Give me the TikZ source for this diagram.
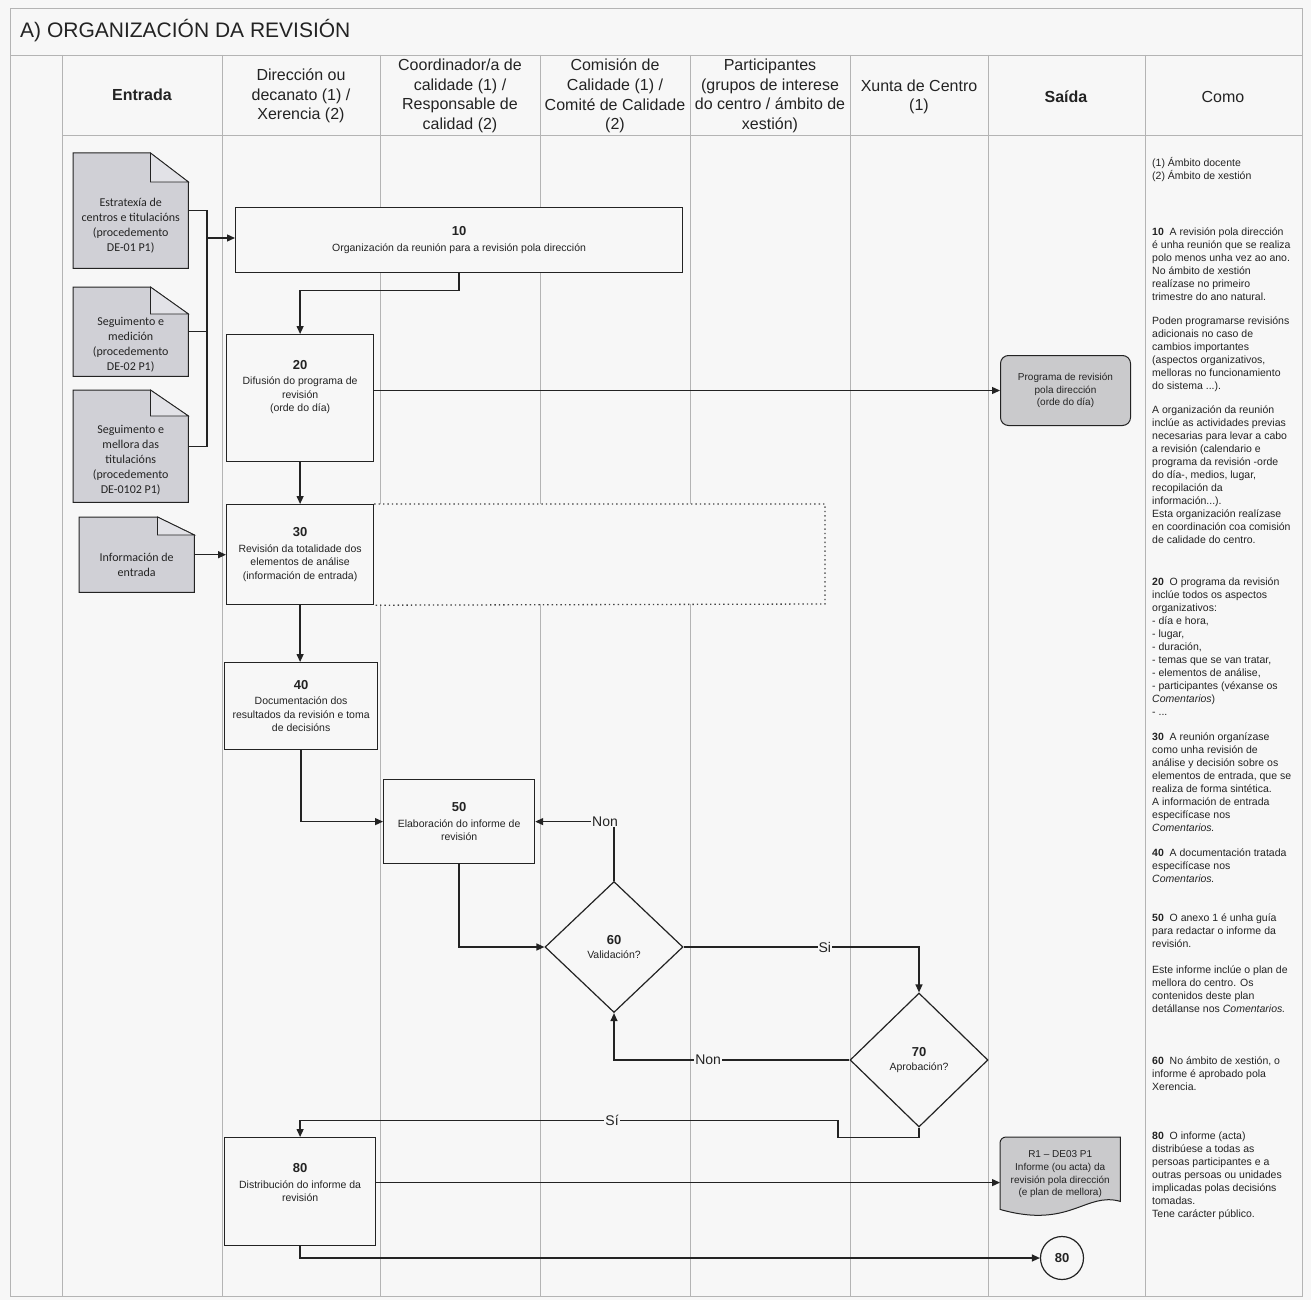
\documentclass[tikz,border=0pt]{standalone}
\usepackage{fontspec}
\setmainfont{Liberation Sans}
\newfontfamily\calib{Carlito}
\usetikzlibrary{arrows.meta,shapes.geometric}
\definecolor{bgc}{RGB}{247,247,247}
\definecolor{gridc}{RGB}{180,180,180}
\definecolor{inkc}{RGB}{35,35,35}
\definecolor{docfill}{RGB}{208,208,214}
\definecolor{foldfill}{RGB}{226,226,231}
\definecolor{outfill}{RGB}{202,202,204}
\pgfdeclarelayer{back}
\pgfdeclarelayer{mid}
\pgfsetlayers{back,mid,main}
\newcommand\stepnum[1]{{\fontsize{13}{15}\selectfont\bfseries #1}}
\newcommand\fdoc[3]{%
  \filldraw[fill=docfill,draw=inkc,line width=1pt] (#1.north west) -- ([xshift=-#2pt]#1.north east) -- ([yshift=-#3pt]#1.north east) -- (#1.south east) -- (#1.south west) -- cycle;
  \filldraw[fill=foldfill,draw=inkc,line width=0.8pt] ([xshift=-#2pt]#1.north east) -- ([xshift=-#2pt,yshift=-#3pt]#1.north east) -- ([yshift=-#3pt]#1.north east) -- cycle;}
\begin{document}
\begin{tikzpicture}[x=1pt,y=-1pt,
  every node/.style={text=inkc},
  proc/.style={draw=inkc,line width=1.2pt,fill=bgc,anchor=north west,inner sep=2pt,align=center,font=\fontsize{10.5}{13.5}\selectfont},
  ptext/.style={inner sep=0pt,align=center,font=\fontsize{10.5}{13.5}\selectfont},
  dec/.style={diamond,draw=inkc,line width=1.2pt,fill=bgc,inner sep=0pt,align=center,font=\fontsize{10.5}{13.5}\selectfont},
  docbox/.style={anchor=north west,inner sep=0pt,minimum width=115},
  doctext/.style={inner sep=0pt,align=center,font=\calib\fontsize{12}{14.8}\selectfont},
  outbox/.style={anchor=north west,inner sep=0pt,align=center,font=\fontsize{10}{12.8}\selectfont},
  outtext/.style={inner sep=0pt,align=center,font=\fontsize{10}{12.8}\selectfont},
  hdr/.style={inner sep=0pt,align=center,font=\fontsize{16}{19.6}\selectfont},
  como/.style={anchor=north west,inner sep=0pt,align=left,font=\fontsize{10.5}{12.95}\selectfont,execute at begin node=\strut},
  ln/.style={draw=inkc,line width=1.3pt},
  arr/.style={draw=inkc,line width=1.3pt,-{Triangle[length=8pt,width=7pt]}},
  lab/.style={fill=bgc,inner sep=1pt,font=\fontsize{14}{16}\selectfont}
]
\useasboundingbox (0,0) rectangle (1311,1300);
\begin{pgfonlayer}{back}
  \fill[bgc] (0,0) rectangle (1311,1300);
  \draw[gridc,line width=0.7pt] (10,8) rectangle (1302,1296);
  \draw[gridc,line width=0.7pt] (10,55) -- (1302,55);
  \draw[gridc,line width=0.7pt] (62,135) -- (1302,135);
  \foreach \x in {62,222,380,540,690,850,988,1145} \draw[gridc,line width=0.7pt] (\x,55) -- (\x,1296);
\end{pgfonlayer}

% title and headers
\node[anchor=base west,inner sep=0pt,font=\fontsize{21}{25}\selectfont] (title) at (20,38) {A) ORGANIZACIÓN DA REVISIÓN};
\node[hdr] (hEnt) at (142,95) {\bfseries Entrada};
\node[hdr] (hDir) at (301,96) {Dirección ou\\decanato (1) /\\Xerencia (2)};
\node[hdr] (hCoo) at (460,96) {Coordinador/a de\\calidade (1) /\\Responsable de\\calidad (2)};
\node[hdr] (hCom) at (615,96) {Comisión de\\Calidade (1) /\\Comité de Calidade\\(2)};
\node[hdr] (hPar) at (770,96) {Participantes\\(grupos de interese\\do centro / ámbito de\\xestión)};
\node[hdr] (hXun) at (919,97) {Xunta de Centro\\(1)};
\node[hdr] (hSai) at (1066,97) {\bfseries Saída};
\node[hdr] (hComo) at (1223,97) {Como};

% input documents
\node[docbox,minimum height=115] (d1) at (73,153) {};
\node[docbox,minimum height=89] (d2) at (73,287) {};
\node[docbox,minimum height=112] (d3) at (73,390) {};
\node[docbox,minimum height=75] (d4) at (79,517) {};
\node[doctext] (t1) at ([yshift=-15]d1.center) {Estratexía de\\centros e titulacións\\(procedemento\\DE-01 P1)};
\node[doctext] (t2) at ([yshift=-13]d2.center) {Seguimento e\\medición\\(procedemento\\DE-02 P1)};
\node[doctext] (t3) at ([yshift=-14]d3.center) {Seguimento e\\mellora das\\titulacións\\(procedemento\\DE-0102 P1)};
\node[doctext] (t4) at ([yshift=-10]d4.center) {Información de\\entrada};
\begin{pgfonlayer}{mid}
  \fdoc{d1}{38}{29}
  \fdoc{d2}{38}{27}
  \fdoc{d3}{38}{26}
  \fdoc{d4}{37}{18}
\end{pgfonlayer}

% process boxes
\node[proc,minimum width=447,minimum height=65] (b10) at (235,207) {\stepnum{10}\\[2pt]Organización da reunión para a revisión pola dirección};
\node[proc,minimum width=147,minimum height=127] (b20) at (226,334) {};
\node[ptext] (t20) at ([yshift=11]b20.center) {\stepnum{20}\\[2pt]Difusión do programa de\\revisión\\(orde do día)};
\node[proc,minimum width=147,minimum height=100] (b30) at (226,504) {\stepnum{30}\\[2pt]Revisión da totalidade dos\\elementos de análise\\(información de entrada)};
\node[proc,minimum width=153,minimum height=87] (b40) at (224,662) {\stepnum{40}\\[2pt]Documentación dos\\resultados da revisión e toma\\de decisións};
\node[proc,minimum width=151,minimum height=84] (b50) at (383,779) {\stepnum{50}\\[2pt]Elaboración do informe de\\revisión};
\node[dec,minimum width=138,minimum height=131] (d60) at (614,947) {\stepnum{60}\\[1pt]Validación?};
\node[dec,minimum width=138,minimum height=134] (d70) at (919,1060) {\stepnum{70}\\[1pt]Aprobación?};
\node[proc,minimum width=151,minimum height=108] (b80) at (224,1137) {};
\node[ptext] (t80) at ([yshift=9]b80.center) {\stepnum{80}\\[2pt]Distribución do informe da\\revisión};

% dotted extension of 30
\begin{pgfonlayer}{mid}
  \fill[bgc] (b30.north east) rectangle (825,604);
  \draw[inkc!85,line width=1.3pt,dash pattern=on 1.4pt off 3pt] (b30.north east) -- (825,504) -- (825,604) -- (b30.south east);
\end{pgfonlayer}

% outputs
\node[outbox,minimum width=130,minimum height=70,draw=inkc,line width=1pt,fill=outfill,rounded corners=8pt] (s1) at (1000,355) {Programa de revisión\\pola dirección\\(orde do día)};
\node[outbox,minimum width=120,minimum height=80] (r1) at (1000,1137) {};
\node[outtext] (tr1) at ([yshift=3]r1.center) {R1 – DE03 P1\\Informe (ou acta) da\\revisión pola dirección\\(e plan de mellora)};
\begin{pgfonlayer}{mid}
  \filldraw[fill=outfill,draw=inkc,line width=1pt] ([yshift=8]r1.south west) -- ([yshift=-6]r1.north west) to[out=90,in=180] ([xshift=6]r1.north west) -- (r1.north east) -- ([yshift=16]r1.south east) .. controls ([xshift=-35,yshift=26]r1.south east) and ([xshift=70,yshift=-12]r1.south west) .. ([yshift=8]r1.south west) -- cycle;
\end{pgfonlayer}
\node[circle,draw=inkc,line width=1.2pt,fill=bgc,minimum size=43,inner sep=0pt,font=\fontsize{13}{15}\selectfont\bfseries] (c80) at (1062,1258) {80};

% connectors
\coordinate (jx) at (207,238);
\draw[ln] (d1.east) -| (jx);
\draw[ln] (d2.east) -| (jx);
\draw[ln] (d3.east) -| (jx);
\draw[arr] (jx) -- (jx -| b10.west);
\draw[arr] (d4.east) -- (d4.east -| b30.west);
\draw[arr] (b10.south) -- ++(0,17) -| (b20.north);
\draw[arr] (s1.west -| b20.east) -- (s1.west);
\draw[arr] (b20.south) -- (b30.north);
\draw[arr] (b30.south) -- (b30.south |- b40.north);
\draw[arr] (b40.south) |- (b50.west);
\draw[arr] (b50.south) |- (d60.west);
\draw[arr] (d60.north) |- node[lab,pos=0.5,xshift=-9pt]{Non} (b50.east);
\draw[arr] (d60.east) -| node[lab,pos=0.3]{Si} (d70.north);
\draw[arr] (d70.west) -| node[lab,pos=0.3]{Non} (d60.south);
\draw[arr] (d70.south) -- ++(0,10) -| ++(-81,-17) -| node[lab,pos=0.21]{Sí} (b80.north);
\coordinate (o80) at ([yshift=9]b80.east);
\draw[arr] (o80) -- (o80 -| r1.west);
\draw[arr] (b80.south) |- (c80.west);

% Como column
\node[como] (p0) at (1152,157) {(1) Ámbito docente\\(2) Ámbito de xestión};
\node[como] (p1) at (1152,228) {\textbf{10}\ \ A revisión pola dirección\\é unha reunión que se realiza\\polo menos unha vez ao ano.\\No ámbito de xestión\\realízase no primeiro\\trimestre do ano natural.};
\node[como] (p2) at (1152,317) {Poden programarse revisións\\adicionais no caso de\\cambios importantes\\(aspectos organizativos,\\melloras no funcionamiento\\do sistema ...).};
\node[como] (p3) at (1152,406) {A organización da reunión\\inclúe as actividades previas\\necesarias para levar a cabo\\a revisión (calendario e\\programa da revisión -orde\\do día-, medios, lugar,\\recopilación da\\información...).\\Esta organización realízase\\en coordinación coa comisión\\de calidade do centro.};
\node[como] (p4) at (1152,578) {\textbf{20}\ \ O programa da revisión\\inclúe todos os aspectos\\organizativos:\\- día e hora,\\- lugar,\\- duración,\\- temas que se van tratar,\\- elementos de análise,\\- participantes (véxanse os\\\textit{Comentarios})\\- ...};
\node[como] (p5) at (1152,733) {\textbf{30}\ \ A reunión organízase\\como unha revisión de\\análise y decisión sobre os\\elementos de entrada, que se\\realiza de forma sintética.\\A información de entrada\\especifícase nos\\\textit{Comentarios.}};
\node[como] (p6) at (1152,849) {\textbf{40}\ \ A documentación tratada\\especifícase nos\\\textit{Comentarios.}};
\node[como] (p7) at (1152,914) {\textbf{50}\ \ O anexo 1 é unha guía\\para redactar o informe da\\revisión.};
\node[como] (p8) at (1152,966) {Este informe inclúe o plan de\\mellora do centro. Os\\contenidos deste plan\\detállanse nos \textit{Comentarios.}};
\node[como] (p9) at (1152,1057) {\textbf{60}\ \ No ámbito de xestión, o\\informe é aprobado pola\\Xerencia.};
\node[como] (p10) at (1152,1132) {\textbf{80}\ \ O informe (acta)\\distribúese a todas as\\persoas participantes e a\\outras persoas ou unidades\\implicadas polas decisións\\tomadas.\\Tene carácter público.};
\end{tikzpicture}
\end{document}
